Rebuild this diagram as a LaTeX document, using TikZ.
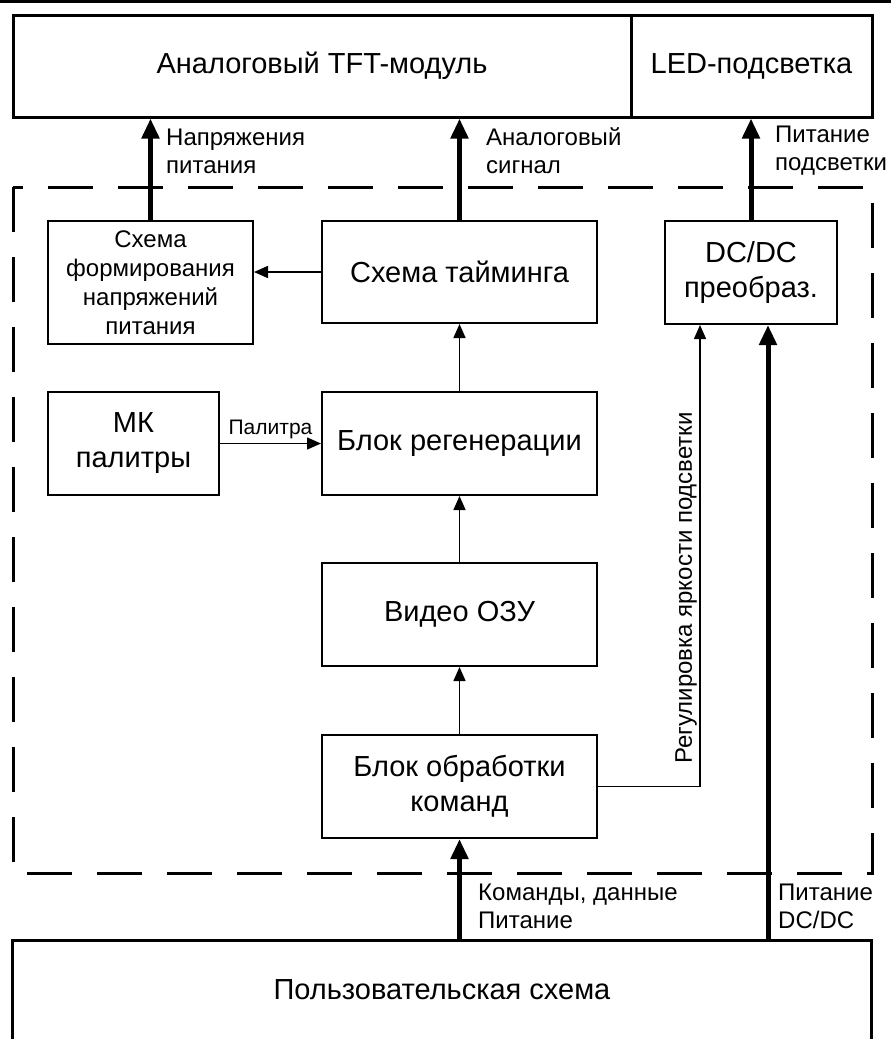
\documentclass[tikz,border=0pt]{standalone}
\usepackage{fontspec}
\setmainfont{Liberation Sans}
\usetikzlibrary{arrows.meta}
\begin{document}
\begin{tikzpicture}[x=1pt,y=-1pt,
  blk/.style={draw, line width=2pt, inner sep=0pt, align=center, font=\fontsize{29}{35}\selectfont},
  big/.style={draw, line width=3pt, inner sep=0pt, font=\fontsize{29}{35}\selectfont},
  lbl/.style={inner sep=0pt, align=left, anchor=west, font=\fontsize{24}{28}\selectfont},
  thinarrow/.style={line width=1.5pt, -{Triangle[width=12pt,length=14pt]}},
  thickarrow/.style={line width=5pt, -{Triangle[width=17pt,length=20pt]}},
  dashedframe/.style={line width=3pt, dash pattern=on 45pt off 25pt}]
\useasboundingbox (0,0) rectangle (891,1039);
% top edge line
\draw[line width=2.5pt] (0,1.25) -- (891,1.25);
% top module
\node[big, minimum width=618pt, minimum height=102pt] (tft) at (322,66) {Аналоговый TFT-модуль};
\node[big, minimum width=241pt, minimum height=102pt] (led) at (751.5,66) {LED-подсветка};
% dashed controller frame
\draw[dashedframe] (13,187) rectangle (872,873);
% blocks
\node[blk, minimum width=205pt, minimum height=123pt, font=\fontsize{24}{29}\selectfont] (form) at (150.5,282.5) {Схема\\формирования\\напряжений\\питания};
\node[blk, minimum width=275pt, minimum height=102pt] (timing) at (459.5,272) {Схема тайминга};
\node[blk, minimum width=172pt, minimum height=103pt] (dcdc) at (751,272.5) {DC/DC\\преобраз.};
\node[blk, minimum width=171pt, minimum height=103pt] (mk) at (133.5,443.5) {МК\\палитры};
\node[blk, minimum width=275pt, minimum height=103pt] (regen) at (459.5,443.5) {Блок регенерации};
\node[blk, minimum width=275pt, minimum height=103pt] (video) at (459.5,614.5) {Видео ОЗУ};
\node[blk, minimum width=275pt, minimum height=103pt] (cmd) at (459.5,786.5) {Блок обработки\\команд};
% user circuit (open at bottom)
\node[inner sep=0pt, minimum width=858pt, minimum height=98pt, font=\fontsize{29}{35}\selectfont] (user) at (442,990) {Пользовательская схема};
\draw[line width=3pt] (user.south west) |- (user.north east) -- (user.south east);
% thick arrows to the module
\draw[thickarrow] (form.north) -- (form.north |- tft.south);
\draw[thickarrow] (timing.north) -- (timing.north |- tft.south);
\draw[thickarrow] (dcdc.north) -- (dcdc.north |- led.south);
\node[lbl] (l1) at (166,151) {Напряжения\\питания};
\node[lbl] (l2) at (486,151) {Аналоговый\\сигнал};
\node[lbl] (l3) at (775,151) {Питание\\подсветки};
% internal thin arrows
\draw[thinarrow] (timing.west) -- (form.east |- timing.west);
\draw[thinarrow] (mk.east) -- (regen.west) node[midway, above=4pt, inner sep=0pt, font=\fontsize{21}{25}\selectfont] (pal) {Палитра};
\draw[thinarrow] (regen.north) -- (timing.south);
\draw[thinarrow] (video.north) -- (regen.south);
\draw[thinarrow] (cmd.north) -- (video.south);
\coordinate (bend) at (700,786.5);
\draw[thinarrow] (cmd.east) -- (bend) -- (bend |- dcdc.south);
\node[rotate=90, anchor=south, inner sep=1pt, font=\fontsize{24}{28}\selectfont] (bright) at (698,588) {Регулировка яркости подсветки};
% thick arrows from user circuit
\draw[thickarrow] (cmd.south |- user.north) -- (cmd.south);
\coordinate (pw) at (768,941);
\draw[thickarrow] (pw) -- (pw |- dcdc.south);
\node[lbl] (l4) at (478,906) {Команды, данные\\Питание};
\node[lbl] (l5) at (778,906) {Питание\\DC/DC};
\end{tikzpicture}
\end{document}
